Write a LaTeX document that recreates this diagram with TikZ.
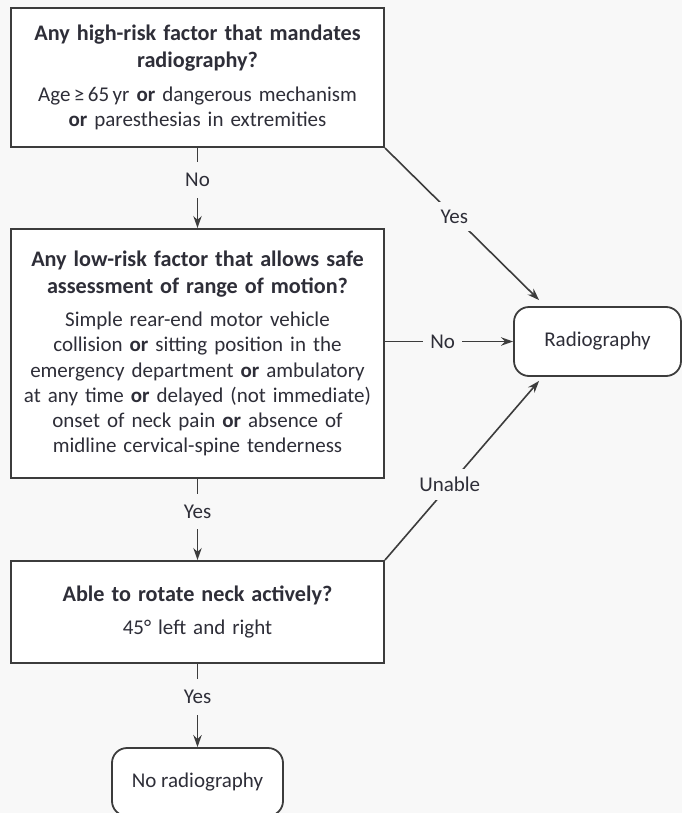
\documentclass[tikz,border=0pt]{standalone}
\usepackage{fontspec}
\setmainfont{Carlito}
\usepackage{tikz}
\usetikzlibrary{positioning,arrows.meta,calc}
\definecolor{bgc}{HTML}{F8F8F8}
\definecolor{linec}{HTML}{3C3C3C}
\definecolor{txtc}{HTML}{2E2E38}
\tikzset{
  >={Stealth[length=6pt,width=4.2pt]},
  qbox/.style={draw=linec,fill=white,line width=1pt,minimum width=186.5pt,
    text width=180pt,align=center,inner sep=2pt,text=txtc,
    font=\fontsize{10.5}{12.6}\selectfont},
  outbox/.style={draw=linec,fill=white,line width=0.9pt,rounded corners=7.5pt,
    align=center,text=txtc,font=\fontsize{10.5}{12.6}\selectfont},
  flow/.style={->,line width=0.8pt,linec},
  flowlbl/.style={fill=bgc,text=txtc,inner xsep=3.5pt,inner ysep=5.5pt,
    font=\fontsize{10.5}{12.6}\selectfont},
  difflbl/.style={flowlbl,inner xsep=2.5pt,inner ysep=4pt},
}
\newcommand{\qor}{\textbf{or}}
\newcommand{\qhead}[1]{{\fontsize{11.1}{13.6}\selectfont\bfseries #1\\[4pt]}}

\begin{document}
\begin{tikzpicture}[x=0.5pt,y=-0.5pt]
  \fill[bgc] (0,0) rectangle (682,813);
  \useasboundingbox (0,0) rectangle (682,813);
  \node[qbox,minimum height=69.5pt] (high) at (197.5,77.5)
    {\qhead{Any high-risk factor that mandates\\radiography?}
     Age\,≥\,65\,yr \qor{} dangerous mechanism\\\qor{} paresthesias in extremities};
  \node[qbox,minimum height=124.5pt] (low) at (197.5,353.5)
    {\qhead{Any low-risk factor that allows safe\\assessment of range of motion?}
     Simple rear-end motor vehicle\\collision \qor{} sitting position in the\\
     emergency department \qor{} ambulatory\\at any time \qor{} delayed (not immediate)\\
     onset of neck pain \qor{} absence of\\midline cervical-spine tenderness};
  \node[qbox,minimum height=51pt] (rot) at (197.5,612)
    {\qhead{Able to rotate neck actively?}45° left and right};
  \node[outbox,minimum width=83.5pt,minimum height=34.5pt] (rad) at (597.5,341.5)
    {Radiography};
  \node[outbox,minimum width=85.5pt,minimum height=34pt] (norad) at (197.5,782)
    {No radiography};
  \coordinate (radtop) at ([shift={(26,-6)}]rad.north west);
  \coordinate (radbot) at ([shift={(26,4)}]rad.south west);
  \draw[flow] (high) -- node[flowlbl,pos=0.4]{No} (low);
  \draw[flow] (low) -- node[flowlbl,pos=0.4]{Yes} (rot);
  \draw[flow] (rot) -- node[flowlbl,pos=0.4]{Yes} (norad);
  \draw[flow] (low.east |- rad.west) -- node[flowlbl,pos=0.45]{No} (rad.west);
  \draw[flow] (high.south east) -- node[difflbl,pos=0.45]{Yes} (radtop);
  \draw[flow] (rot.north east) -- node[difflbl,pos=0.42]{Unable} (radbot);
\end{tikzpicture}
\end{document}
